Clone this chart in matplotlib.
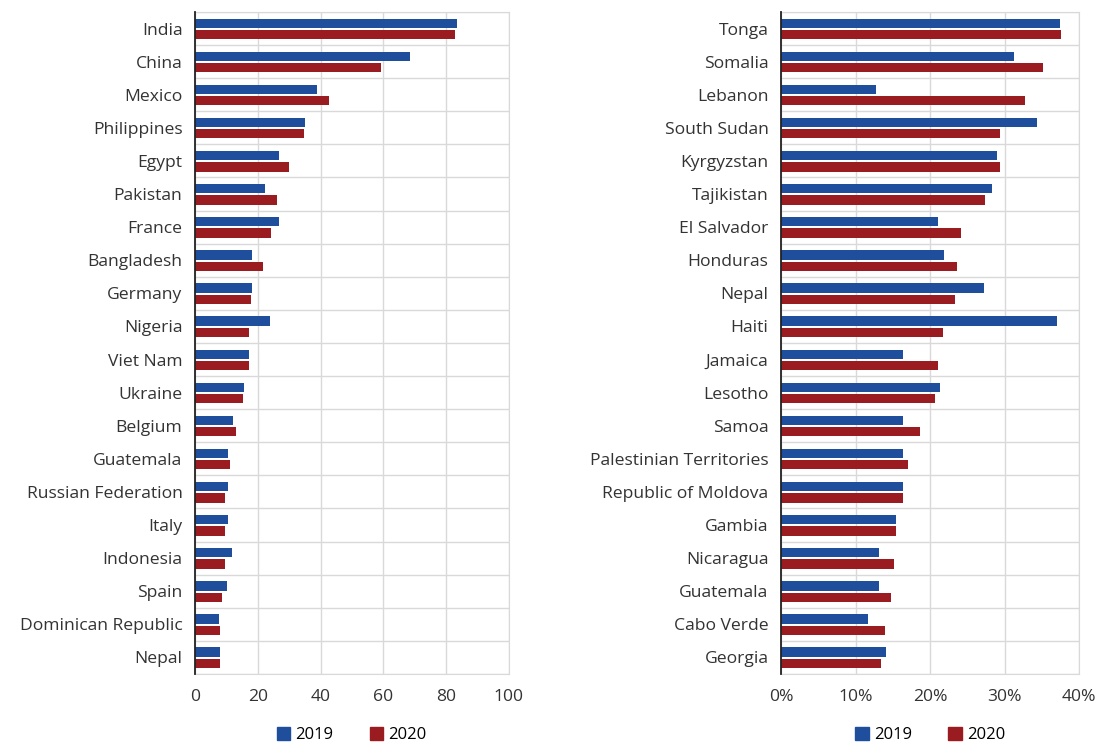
import numpy as np
import matplotlib
matplotlib.use('Agg')
import matplotlib.pyplot as plt
from matplotlib.ticker import FuncFormatter
from matplotlib.patches import Patch

plt.rcParams['font.family'] = ['Open Sans', 'DejaVu Sans']

left_countries = ['India', 'China', 'Mexico', 'Philippines', 'Egypt', 'Pakistan', 'France',
                  'Bangladesh', 'Germany', 'Nigeria', 'Viet Nam', 'Ukraine', 'Belgium',
                  'Guatemala', 'Russian Federation', 'Italy', 'Indonesia', 'Spain',
                  'Dominican Republic', 'Nepal']
left_2019 = [83.5, 68.4, 38.8, 35.2, 26.8, 22.3, 26.8, 18.2, 18.2, 23.8,
             17.2, 15.6, 12.1, 10.6, 10.6, 10.6, 11.7, 10.1, 7.5, 8.1]
left_2020 = [82.9, 59.4, 42.8, 34.7, 29.8, 26.2, 24.3, 21.7, 17.7, 17.2,
             17.2, 15.2, 13.1, 11.0, 9.6, 9.6, 9.6, 8.6, 8.1, 8.1]

right_countries = ['Tonga', 'Somalia', 'Lebanon', 'South Sudan', 'Kyrgyzstan', 'Tajikistan',
                   'El Salvador', 'Honduras', 'Nepal', 'Haiti', 'Jamaica', 'Lesotho', 'Samoa',
                   'Palestinian Territories', 'Republic of Moldova', 'Gambia', 'Nicaragua',
                   'Guatemala', 'Cabo Verde', 'Georgia']
right_2019 = [37.4, 31.2, 12.7, 34.3, 29.0, 28.3, 21.1, 21.9, 27.2, 37.0,
              16.3, 21.3, 16.3, 16.3, 16.3, 15.4, 13.1, 13.1, 11.7, 14.1]
right_2020 = [37.6, 35.2, 32.8, 29.4, 29.4, 27.4, 24.1, 23.6, 23.4, 21.7,
              21.1, 20.6, 18.6, 17.1, 16.3, 15.4, 15.2, 14.8, 14.0, 13.4]

BLUE = '#1f4e9d'
RED = '#9b1c20'
GRID = '#d9d9d9'

fig = plt.figure(figsize=(10.99, 7.43), dpi=100)
ax1 = fig.add_axes([0.1774, 0.0929, 0.2857, 0.891])
ax2 = fig.add_axes([0.7107, 0.0929, 0.2712, 0.891])


def draw(ax, names, v19, v20, xmax, fmt):
    y = np.arange(len(names))
    h = 0.28
    ax.barh(y - 0.16, v19, height=h, color=BLUE, zorder=3)
    ax.barh(y + 0.18, v20, height=h, color=RED, zorder=3)
    ax.set_ylim(len(names) - 0.5, -0.5)
    ax.set_xlim(0, xmax)
    ax.set_yticks(y)
    ax.set_yticklabels(names, fontsize=12.6, color='#333333')
    ax.set_xticks(np.linspace(0, xmax, 6 if xmax == 100 else 5))
    ax.xaxis.set_major_formatter(FuncFormatter(fmt))
    ax.tick_params(axis='both', length=0, labelsize=12.6, colors='#333333')
    ax.tick_params(axis='x', pad=11)
    ax.tick_params(axis='y', pad=9)
    # gridlines: vertical at ticks, horizontal between categories
    ax.set_yticks(np.arange(len(names) + 1) - 0.5, minor=True)
    ax.tick_params(axis='y', which='minor', length=0)
    ax.grid(axis='x', which='major', color=GRID, lw=1, zorder=0)
    ax.grid(axis='y', which='minor', color=GRID, lw=1, zorder=0)
    for s in ['top', 'right', 'bottom']:
        ax.spines[s].set_color(GRID)
    ax.spines['left'].set_color('#222222')
    ax.spines['left'].set_linewidth(1.3)
    ax.spines['left'].set_zorder(4)
    handles = [Patch(color=BLUE, label='2019'), Patch(color=RED, label='2020')]
    ax.legend(handles=handles, loc='upper center', bbox_to_anchor=(0.5, -0.064),
              ncol=2, frameon=False, fontsize=12, handlelength=0.8, handleheight=0.8,
              handletextpad=0.3, columnspacing=2.2, borderpad=0.15)


draw(ax1, left_countries, left_2019, left_2020, 100, lambda v, p: f'{v:.0f}')
draw(ax2, right_countries, right_2019, right_2020, 40, lambda v, p: f'{v:.0f}%')

fig.savefig('out.png', dpi=100)
